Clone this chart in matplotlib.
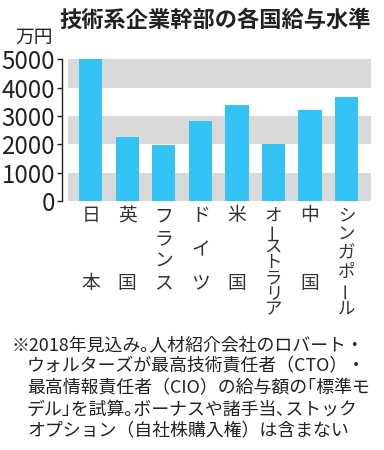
import numpy as np
import matplotlib
matplotlib.use("Agg")
import matplotlib.pyplot as plt
from matplotlib import transforms

plt.rcParams['font.family'] = ['Noto Sans CJK JP', 'DejaVu Sans']

# --- data ---
countries = ["日本", "英国", "フランス", "ドイツ", "米国", "オーストラリア", "中国", "シンガポール"]
salaries = [5000, 2250, 1960, 2820, 3400, 2020, 3200, 3660]  # 万円
yticks = [0, 1000, 2000, 3000, 4000, 5000]
title = "技術系企業幹部の各国給与水準"
unit = "万円"
note_lines = [
    "※2018年見込み｡人材紹介会社のロバート・",
    "ウォルターズが最高技術責任者（CTO）・",
    "最高情報責任者（CIO）の給与額の｢標準モ",
    "デル｣を試算｡ボーナスや諸手当､ストック",
    "オプション（自社株購入権）は含まない",
]

W, H = 384, 450
BAR = "#33c3f4"
GRAY = "#d9d9d9"
INK = "#222222"

fig = plt.figure(figsize=(W / 100, H / 100), dpi=100)
ax = fig.add_axes([68 / W, 1 - 201 / H, (371 - 68) / W, (201 - 59.3) / H])

# alternating background bands
for lo in (0, 2000, 4000):
    ax.axhspan(lo, lo + 1000, color=GRAY, lw=0, zorder=0)

x = np.arange(len(countries))
ax.bar(x, salaries, width=0.64, color=BAR, zorder=2)

ax.set_xlim(-0.62, len(countries) - 1 + 0.67)
ax.set_ylim(0, 5000)
ax.set_yticks(yticks)
ax.set_yticklabels([str(v) for v in yticks])
ax.set_xticks([])

for s in ("top", "right", "bottom"):
    ax.spines[s].set_visible(False)
ax.spines["left"].set_position(("outward", 4.3))
ax.spines["left"].set_color(INK)
ax.spines["left"].set_linewidth(1.0)
ax.tick_params(axis="y", length=3.6, width=1.0, color=INK, pad=1.5,
               labelsize=17.3, labelcolor=INK)

# vertical stacked category labels (long-vowel mark turned upright)
trans = transforms.blended_transform_factory(ax.transData, fig.transFigure)
for xi, name in zip(x, countries):
    n = len(name)
    end = 283 if n <= 4 else 309
    size = 13.5 if n <= 4 else 12.5
    ys = np.linspace(216, end, n)
    for ch, yp in zip(name, ys):
        rot = 90 if ch == "ー" else 0
        ax.text(xi, 1 - yp / H, ch, transform=trans, ha="center", va="center",
                fontsize=size, color="#333333", rotation=rot, clip_on=False)

fig.text(215 / W, 1 - 20 / H, title, ha="center", va="center",
         fontsize=16, fontweight="bold", color=INK)
fig.text(53 / W, 1 - 37 / H, unit, ha="right", va="center", fontsize=13.5, color=INK)

for i, line in enumerate(note_lines):
    xp = 12 if i == 0 else 27
    fig.text(xp / W, 1 - (345 + 21.5 * i) / H, line, ha="left", va="center",
             fontsize=12.9, color=INK)

fig.savefig("out.png", dpi=100, facecolor="white")
